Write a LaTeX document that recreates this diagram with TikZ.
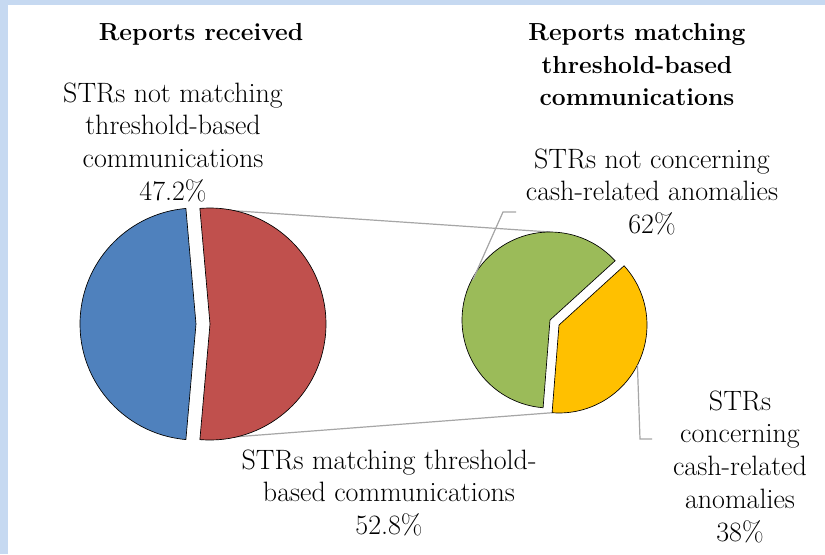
\documentclass[tikz,border=0pt]{standalone}
\usepackage{tikz}
\tikzset{every picture/.style={line width=0.75pt}}

\definecolor{bandblue}{RGB}{198,217,241}
\definecolor{sliceblue}{RGB}{79,129,189}
\definecolor{slicered}{RGB}{192,80,77}
\definecolor{slicegreen}{RGB}{155,187,89}
\definecolor{sliceyellow}{RGB}{255,192,0}
\definecolor{leadergray}{RGB}{166,166,166}

\begin{document}
\begin{tikzpicture}[x=0.75pt,y=0.75pt,yscale=-1,xscale=1,
  slice/.style={draw=black, line width=0.5pt},
  leader/.style={draw=leadergray, line width=0.9pt},
  lbl/.style={align=center, inner sep=0pt, anchor=north, font=\fontsize{21}{24.6}\selectfont},
  ttl/.style={align=center, inner sep=0pt, anchor=north, font=\fontsize{18.5}{24.4}\selectfont\bfseries}]

\useasboundingbox (0,0) rectangle (825,554);
%Frame
\fill [white] (0,0) rectangle (825,554);
\fill [bandblue] (0,0) rectangle (825,5);
\fill [bandblue] (0,0) rectangle (8,554);

%Pie centres
\coordinate (bluec) at (196,324);
\coordinate (redc) at (210,324);
\coordinate (greenc) at (550,320);
\coordinate (yellowc) at (559,325);

%Points on the rims
\path (redc) ++(-95:116) coordinate (redtop);
\path (redc) ++(95:116) coordinate (redbot);
\path (greenc) ++(270:88) coordinate (greentop);
\path (yellowc) ++(94.5:88) coordinate (yellowbot);
\path (greenc) ++(207.5:87) coordinate (greenrim);
\path (yellowc) ++(27:88) coordinate (yellowrim);
%Leader elbows
\coordinate (gbend) at (503,212);
\coordinate (gend) at (516,212);
\coordinate (ybend) at (640,439);
\coordinate (yend) at (652,439);

%Straight Lines: series connectors
\draw [leader] (redtop) -- (greentop);
\draw [leader] (redbot) -- (yellowbot);

%Shape: left pie
\filldraw [slice, fill=sliceblue] (bluec) -- +(95:116) arc [start angle=95, end angle=265, radius=116] -- cycle;
\filldraw [slice, fill=slicered] (redc) -- +(95:116) arc [start angle=95, end angle=-95, radius=116] -- cycle;
%Shape: right pie
\filldraw [slice, fill=slicegreen] (greenc) -- +(94.5:88) arc [start angle=94.5, end angle=317.7, radius=88] -- cycle;
\filldraw [slice, fill=sliceyellow] (yellowc) -- +(-42.3:88) arc [start angle=-42.3, end angle=94.5, radius=88] -- cycle;

%Straight Lines: leaders
\draw [leader] (greenrim) -- (gbend) -- (gend);
\draw [leader] (yellowrim) -- (ybend) -- (yend);

% Text Node
\node (recvttl) [ttl, anchor=base] at (201,40) {Reports received};
% Text Node
\node (matchttl) [ttl] at (637,23) {Reports matching\\threshold-based\\communications};
% Text Node
\node (notmatchlbl) [lbl] at (173,82) {STRs not matching\\threshold-based\\communications\\47.2\%};
% Text Node
\node (notcashlbl) [lbl] at (652,148) {STRs not concerning\\cash-related anomalies\\62\%};
% Text Node
\node (matchlbl) [lbl] at (389,449) {STRs matching threshold-\\based communications\\52.8\%};
% Text Node
\node (cashlbl) [lbl] at (740,390) {STRs\\concerning\\cash-related\\anomalies\\38\%};

\end{tikzpicture}
\end{document}
